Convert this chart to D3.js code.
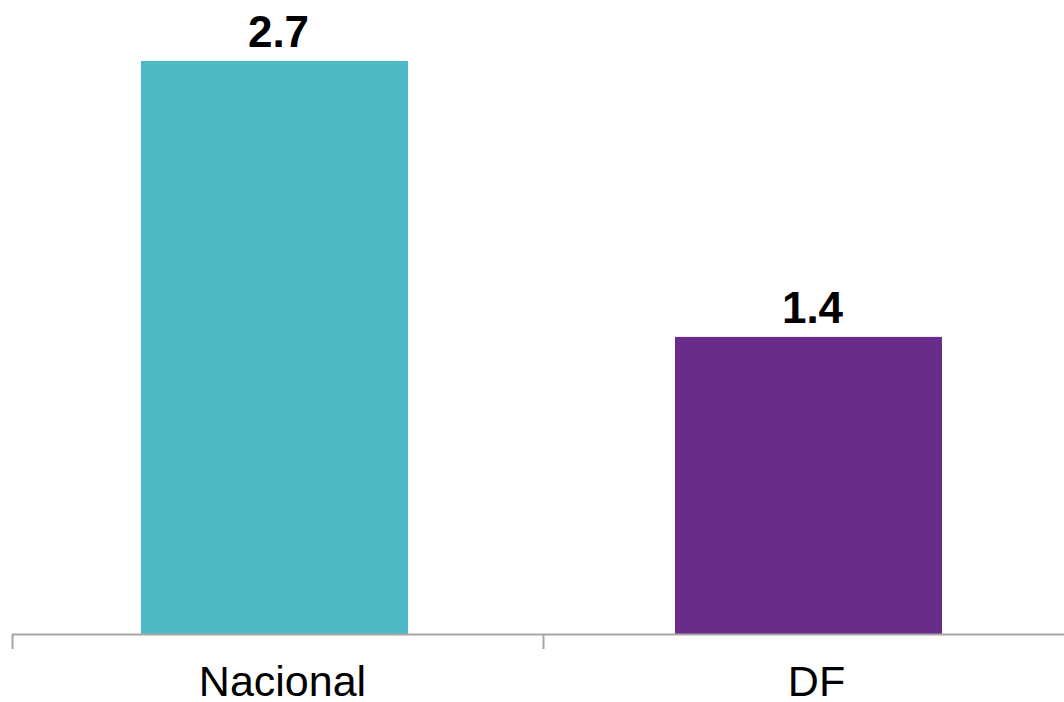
<!DOCTYPE html>
<html>
<head>
<meta charset="utf-8">
<script src="https://cdn.jsdelivr.net/npm/d3@7"></script>
<style>
  body { margin: 0; background: #fff; }
  svg { display: block; font-family: "Liberation Sans", Arial, sans-serif; }
  .boundary-axis path, .boundary-axis line { stroke: #a6a6a6; stroke-width: 2px; }
</style>
</head>
<body>
<div class="d3-wrapper"></div>
<script>
const categories = ['Nacional', 'DF'];
const values = [2.7, 1.4];
const colors = ['#4bbac4', '#6a2c8a'];

const WIDTH = 1064, HEIGHT = 702;
const AXIS_RANGE = [12, 1074];
const BAR_RANGE = [7.5, 1075.5];
const BASELINE = 634, TOP = 61;

const xScale = d3.scaleBand()
  .domain(categories)
  .range(BAR_RANGE)
  .paddingInner(0.5)
  .paddingOuter(0.25);

// category boundaries for the tick marks
const boundaryScale = d3.scaleLinear()
  .domain([0, categories.length])
  .range(AXIS_RANGE);

const yScale = d3.scaleLinear()
  .domain([0, d3.max(values)])
  .range([BASELINE, TOP]);

const svg = d3.select('.d3-wrapper').append('svg')
  .attr('width', WIDTH)
  .attr('height', HEIGHT);

const data = categories.map((c, i) => ({ name: c, value: values[i], color: colors[i] }));

svg.append('g')
  .selectAll('rect')
  .data(data)
  .enter().append('rect')
  .attr('x', d => xScale(d.name))
  .attr('y', d => yScale(d.value))
  .attr('width', xScale.bandwidth())
  .attr('height', d => BASELINE - yScale(d.value) + 1)
  .attr('fill', d => d.color);

svg.append('g')
  .attr('class', 'boundary-axis')
  .attr('transform', `translate(0, ${BASELINE})`)
  .call(d3.axisBottom(boundaryScale)
    .tickValues(d3.range(categories.length + 1))
    .tickSizeOuter(0)
    .tickSizeInner(15)
    .tickFormat(''));

// value labels
svg.append('g')
  .selectAll('text')
  .data(data)
  .enter().append('text')
  .attr('x', d => xScale(d.name) + xScale.bandwidth() / 2)
  .attr('dx', 4)
  .attr('y', d => yScale(d.value) - 14)
  .attr('text-anchor', 'middle')
  .style('font-size', '44px')
  .style('font-weight', 'bold')
  .style('fill', '#000')
  .text(d => d3.format('.1f')(d.value));

// category labels
svg.append('g')
  .selectAll('text')
  .data(data)
  .enter().append('text')
  .attr('x', d => xScale(d.name) + xScale.bandwidth() / 2)
  .attr('dx', 8)
  .attr('y', 696)
  .attr('text-anchor', 'middle')
  .style('font-size', '43px')
  .style('fill', '#000')
  .text(d => d.name);
</script>
</body>
</html>
